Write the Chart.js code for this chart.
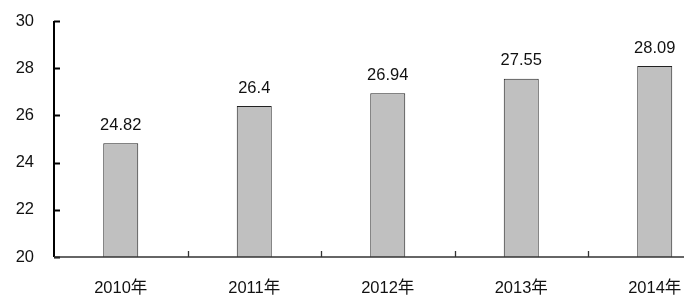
<!DOCTYPE html>
<html>
<head>
<meta charset="utf-8">
<script src="https://cdn.jsdelivr.net/npm/chart.js@4"></script>
<style>
html,body{margin:0;padding:0;background:#fff;overflow:hidden;width:700px;height:308px;}
#wrap{position:absolute;left:0;top:0;width:740px;height:308px;}
</style>
</head>
<body>
<div id="wrap"><canvas id="c"></canvas></div>
<script>
const categories = ["2010年", "2011年", "2012年", "2013年", "2014年"];
const values = [24.82, 26.4, 26.94, 27.55, 28.09];
const valueLabels = ["24.82", "26.4", "26.94", "27.55", "28.09"];
const yTicks = [20, 22, 24, 26, 28, 30];

const FONT = '"Liberation Sans", "Noto Sans CJK SC", sans-serif';
const FS = 16.5;

const axesPlugin = {
  id: 'axesPlugin',
  afterDatasetsDraw(chart) {
    const ctx = chart.ctx;
    const a = chart.chartArea;
    const x = chart.scales.x, y = chart.scales.y;
    ctx.save();
    ctx.strokeStyle = '#000';
    ctx.lineWidth = 2;
    ctx.beginPath();
    ctx.moveTo(a.left, a.top);
    ctx.lineTo(a.left, a.bottom);
    ctx.stroke();
    yTicks.forEach(v => {
      const py = Math.round(y.getPixelForValue(v)) + 0.5;
      ctx.beginPath();
      ctx.lineWidth = 2;
      ctx.moveTo(a.left, py);
      ctx.lineTo(a.left + 6, py);
      ctx.stroke();
    });
    ctx.strokeStyle = '#333';
    ctx.lineWidth = 1.3;
    ctx.beginPath();
    ctx.moveTo(a.left, a.bottom);
    ctx.lineTo(684, a.bottom);
    ctx.stroke();
    for (let i = 1; i < categories.length; i++) {
      const px = Math.round((x.getPixelForValue(i - 1) + x.getPixelForValue(i)) / 2) + 0.5;
      ctx.beginPath();
      ctx.moveTo(px, a.bottom);
      ctx.lineTo(px, a.bottom - 6);
      ctx.stroke();
    }
    ctx.fillStyle = '#111';
    ctx.font = FS + 'px ' + FONT;
    ctx.textAlign = 'center';
    ctx.textBaseline = 'middle';
    const meta = chart.getDatasetMeta(0);
    meta.data.forEach((bar, i) => {
      ctx.fillText(valueLabels[i], bar.x, bar.y - 18);
    });
    ctx.restore();
  }
};

new Chart(document.getElementById('c'), {
  type: 'bar',
  data: {
    labels: categories,
    datasets: [{
      data: values,
      backgroundColor: '#c0c0c0',
      borderColor: '#222',
      borderWidth: 1,
      barPercentage: 0.262,
      categoryPercentage: 1
    }]
  },
  options: {
    responsive: true,
    maintainAspectRatio: false,
    animation: false,
    layout: { padding: { top: 21, right: 18.5, bottom: 0, left: 0 } },
    plugins: { legend: { display: false }, tooltip: { enabled: false } },
    scales: {
      x: {
        grid: { display: false, drawTicks: false },
        border: { display: false },
        ticks: { color: '#111', font: { family: FONT, size: FS }, padding: 22, maxRotation: 0 },
        afterFit(s) { s.height = 51; s.paddingLeft = 0; s.paddingRight = 0; }
      },
      y: {
        min: 20, max: 30,
        afterBuildTicks(s) { s.ticks = yTicks.map(v => ({ value: v })); },
        grid: { display: false, drawTicks: false },
        border: { display: false },
        ticks: { color: '#111', font: { family: FONT, size: FS }, padding: 20 },
        afterFit(s) { s.width = 54; s.paddingTop = 0; s.paddingBottom = 0; }
      }
    }
  },
  plugins: [axesPlugin]
});
</script>
</body>
</html>
